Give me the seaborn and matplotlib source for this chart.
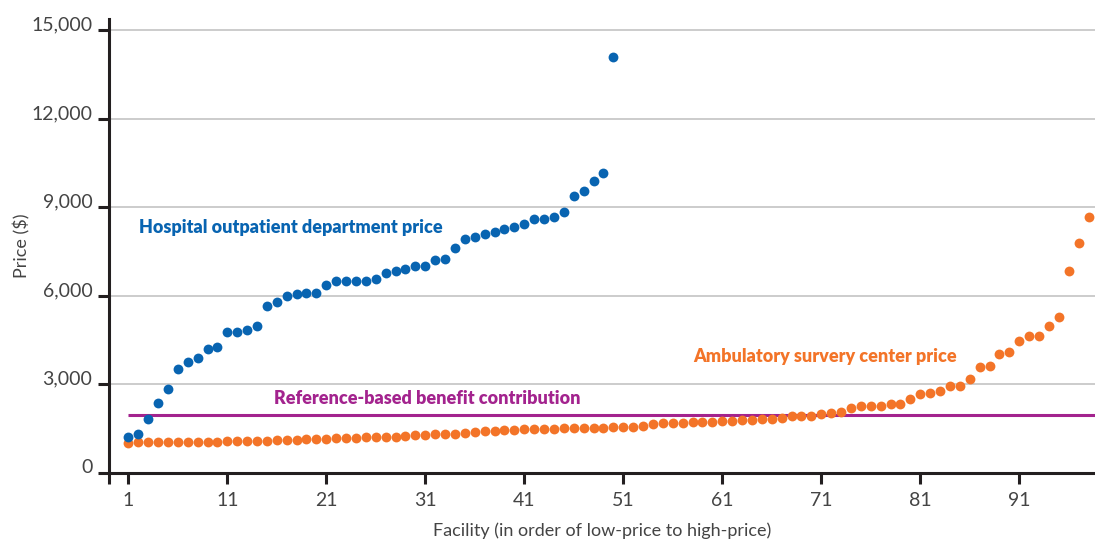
import numpy as np
import pandas as pd
import matplotlib
matplotlib.use("Agg")
import matplotlib.pyplot as plt
import matplotlib.transforms as mtransforms
import seaborn as sns

# prices, facilities ordered low to high
hopd_price = [1214, 1295, 1814, 2367, 2820, 3499, 3746, 3882, 4176, 4244,
              4773, 4773, 4841, 4956, 5634, 5780, 5994, 6041, 6085, 6085,
              6356, 6502, 6502, 6502, 6502, 6548, 6751, 6830, 6888, 7011,
              7011, 7193, 7248, 7600, 7916, 7994, 8085, 8153, 8266, 8322,
              8424, 8583, 8583, 8672, 8831, 9384, 9532, 9882, 10163, 14075]
asc_price = [990, 1044, 1044, 1044, 1044, 1044, 1044, 1044, 1044, 1044,
             1058, 1058, 1058, 1078, 1078, 1100, 1100, 1100, 1125, 1125,
             1146, 1160, 1160, 1180, 1190, 1193, 1203, 1214, 1227, 1261,
             1281, 1295, 1305, 1315, 1349, 1383, 1407, 1417, 1431, 1441,
             1464, 1485, 1485, 1485, 1498, 1498, 1498, 1509, 1525, 1530,
             1540, 1555, 1587, 1644, 1678, 1678, 1689, 1700, 1712, 1723,
             1734, 1746, 1780, 1791, 1802, 1825, 1836, 1915, 1927, 1927,
             1972, 2006, 2062, 2170, 2254, 2270, 2270, 2333, 2333, 2503,
             2661, 2695, 2774, 2921, 2921, 3159, 3588, 3610, 4017, 4074,
             4458, 4638, 4638, 4966, 5271, 6831, 7790, 8651]
reference_price = 1950

x_ticks = [1, 11, 21, 31, 41, 51, 61, 71, 81, 91]
y_ticks = [0, 3000, 6000, 9000, 12000, 15000]
y_tick_labels = ["0", "3,000", "6,000", "9,000", "12,000", "15,000"]

blue = "#0864b1"
orange = "#f37428"
purple = "#a3238e"
dark = "#231f20"
grey_text = "#444444"

df_hopd = pd.DataFrame({"facility": np.arange(1, len(hopd_price) + 1), "price": hopd_price})
df_asc = pd.DataFrame({"facility": np.arange(1, len(asc_price) + 1), "price": asc_price})

sns.set_style("white")
plt.rcParams["font.family"] = ["Lato", "DejaVu Sans"]

fig = plt.figure(figsize=(10.95, 5.42), dpi=100)
ax = fig.add_axes([109 / 1095, 69.5 / 542, 986 / 1095, 453.5 / 542])

x_lo, x_hi = -0.95, 98.65
ax.set_xlim(x_lo, x_hi)
ax.set_ylim(0, 15374)

ax.set_axisbelow(True)
ax.yaxis.grid(True, color="#c8c8c8", lw=1.3)
ax.xaxis.grid(False)

ax.hlines(reference_price, 1, x_hi, color=purple, lw=2.2, zorder=2)

sns.scatterplot(data=df_asc, x="facility", y="price", ax=ax, color=orange,
                s=50, linewidth=0, zorder=3, clip_on=False)
sns.scatterplot(data=df_hopd, x="facility", y="price", ax=ax, color=blue,
                s=50, linewidth=0, zorder=4, clip_on=False)

ax.text(2.1, 8289, "Hospital outpatient department price", color=blue,
        fontsize=13, fontweight="heavy", va="center", ha="left")
ax.text(15.7, 2525, "Reference-based benefit contribution", color=purple,
        fontsize=13, fontweight="heavy", va="center", ha="left")
ax.text(58.1, 3949, "Ambulatory survery center price", color=orange,
        fontsize=13, fontweight="heavy", va="center", ha="left")

for side in ["top", "right"]:
    ax.spines[side].set_visible(False)
for side in ["left", "bottom"]:
    ax.spines[side].set_color(dark)
    ax.spines[side].set_linewidth(2.2)

ax.set_xticks([x_lo] + x_ticks)
ax.set_xticklabels([""] + [str(t) for t in x_ticks])
ax.set_yticks(y_ticks)
ax.set_yticklabels(y_tick_labels)
ax.tick_params(axis="both", bottom=True, left=True, direction="out", length=8,
               width=2.2, color=dark, labelsize=14, labelcolor=grey_text, pad=6)
ax.tick_params(axis="y", pad=4)

shift = mtransforms.ScaledTranslation(0, 0.065, fig.dpi_scale_trans)
for lab in ax.get_yticklabels():
    lab.set_transform(lab.get_transform() + shift)

ax.set_xlabel("Facility (in order of low-price to high-price)", fontsize=13,
              color=grey_text, labelpad=10)
ax.set_ylabel("Price ($)", fontsize=13, color=grey_text)
ax.yaxis.set_label_coords(-0.08, 0.5)

fig.savefig("out.png", dpi=100)
